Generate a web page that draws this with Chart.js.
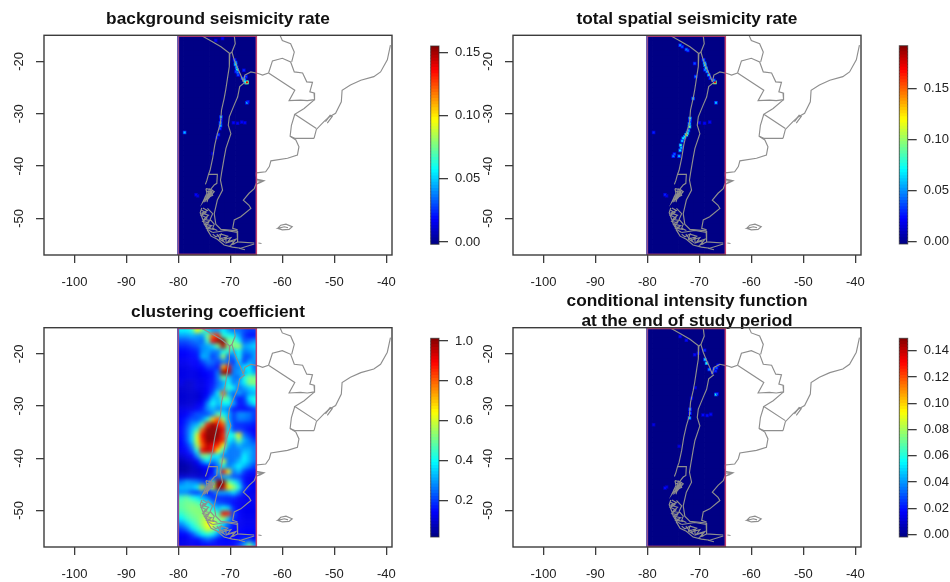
<!DOCTYPE html>
<html><head><meta charset="utf-8">
<script src="https://cdn.jsdelivr.net/npm/chart.js@4"></script>
<style>
html,body{margin:0;padding:0;background:#fff;overflow:hidden;width:950px;height:582px}
canvas{position:absolute;filter:blur(.3px)}
.heat{position:absolute;overflow:hidden}
.heat canvas{filter:blur(2.1px)}
</style></head><body>
<script>
// ---------- tick labels ----------
const lonTicks=[-100,-90,-80,-70,-60,-50,-40];
const latTicks=[-20,-30,-40,-50];
const barTicks1=[0,0.05,0.10,0.15];
const barTicks2=[0,0.05,0.10,0.15];
const barTicks3=[0.2,0.4,0.6,0.8,1.0];
const barTicks4=[0,0.02,0.04,0.06,0.08,0.10,0.12,0.14];
const titles=["background seismicity rate","total spatial seismicity rate","clustering coefficient",["conditional intensity function","at the end of study period"]];
// ---------- map outline polylines (lon, lat) ----------
const peruChileCoast=[[-75.5,-15.1],[-73.7,-16.1],[-71.8,-17.2],[-70.1,-18.5],[-70.2,-21.0],[-70.5,-22.9],[-70.9,-25.5],[-71.2,-27.1],[-71.7,-29.3],[-71.9,-31.8],[-72.5,-33.8],[-73.0,-36.0],[-73.4,-38.5],[-73.9,-40.8],[-74.2,-41.6],[-74.5,-42.7],[-74.8,-43.5]];
const peruBolivia=[[-69.25,-15.1],[-69.06,-16.6],[-69.7,-18.2],[-70.1,-18.5]];
const boliviaChile=[[-69.7,-18.2],[-69.25,-19.7],[-68.6,-21.3],[-68.0,-22.6],[-67.5,-23.9]];
const chileArgentina=[[-67.2,-24.0],[-68.2,-24.8],[-68.6,-26.8],[-69.25,-28.3],[-70.2,-30.6],[-70.4,-32.2],[-69.9,-33.8],[-70.85,-36.6],[-71.2,-38.5],[-71.7,-41.4],[-71.9,-42.7],[-71.5,-44.6],[-72.5,-46.5],[-73.1,-49.1],[-72.8,-51.1],[-71.8,-52.1],[-68.6,-52.4]];
const argentinaBolivia=[[-67.5,-23.9],[-67.2,-22.6],[-66.05,-22.0],[-64.65,-22.3],[-63.8,-22.6],[-62.65,-22.2]];
const paraguay=[[-62.65,-22.2],[-61.9,-19.9],[-60.0,-19.4],[-58.4,-20.1],[-57.7,-22.0],[-56.1,-22.2],[-55.3,-23.9],[-54.2,-24.0],[-54.7,-25.8],[-53.9,-26.0],[-53.8,-27.3],[-55.2,-27.5],[-56.5,-27.4],[-58.7,-27.5],[-57.6,-25.5],[-62.65,-22.2]];
const brazilBolivia=[[-60.4,-15.1],[-60.0,-16.0],[-58.4,-16.6],[-57.7,-18.2],[-58.2,-20.1]];
const atlanticCoast=[[-39.2,-16.9],[-39.8,-19.7],[-41.1,-22.0],[-42.4,-22.9],[-44.9,-23.6],[-46.9,-24.5],[-48.5,-25.5],[-48.65,-27.7],[-49.75,-29.9],[-51.0,-30.6],[-52.0,-31.5],[-53.45,-33.0],[-53.9,-34.7]];
const lagoon=[[-51.7,-31.5],[-50.8,-30.3],[-50.4,-30.5],[-51.35,-31.8]];
const brazilUruguay=[[-53.8,-27.3],[-55.8,-29.0],[-57.6,-30.1],[-53.45,-32.8]];
const uruguayRiver=[[-57.6,-30.1],[-58.25,-32.2],[-58.5,-34.3],[-57.6,-34.7],[-53.9,-34.7]];
const pampaCoast=[[-58.5,-34.3],[-57.4,-35.0],[-56.8,-36.3],[-57.1,-37.9],[-59.0,-38.5],[-62.2,-39.0],[-62.5,-40.1],[-63.2,-41.1],[-65.0,-41.3],[-65.0,-42.0]];
const valdes=[[-65.0,-42.5],[-63.5,-42.8],[-64.3,-43.2],[-64.9,-43.4],[-64.0,-42.9],[-65.0,-42.8]];
const patagoniaCoast=[[-65.0,-43.3],[-65.4,-44.3],[-66.4,-45.2],[-67.5,-46.5],[-66.4,-47.5],[-66.05,-48.1],[-68.0,-49.7],[-69.25,-50.3],[-69.55,-51.9],[-68.6,-52.2]];
const fiordsA=[[-74.2,-41.6],[-72.5,-41.6],[-72.6,-43.3],[-73.1,-43.6],[-73.9,-44.6],[-73.4,-45.6],[-74.2,-45.9],[-74.5,-46.9]];
const fiordsB=[[-74.7,-44.3],[-73.7,-44.5],[-73.1,-44.9],[-74.2,-46.2],[-75.0,-46.5],[-75.3,-46.9],[-74.5,-45.2],[-74.7,-44.3]];
const fiordsC=[[-74.0,-44.3],[-74.4,-45.6],[-73.4,-44.6],[-74.7,-46.2],[-73.7,-45.4],[-75.0,-46.9]];
const fiordsC2=[[-74.6,-44.8],[-73.5,-45.0],[-74.4,-45.9],[-73.9,-45.1],[-74.9,-46.0]];
const fiordsD=[[-75.5,-48.0],[-75.8,-48.9],[-75.3,-50.2],[-75.0,-51.1],[-74.4,-52.1],[-73.4,-52.7]];
const fiordsE=[[-75.3,-48.0],[-74.4,-48.5],[-75.5,-49.0],[-74.2,-49.4],[-75.1,-50.2],[-73.9,-50.4],[-74.9,-51.1],[-73.6,-51.4],[-74.5,-51.9],[-73.1,-52.1]];
const fiordsF=[[-74.4,-48.1],[-73.4,-49.1],[-73.9,-50.2],[-73.1,-51.1],[-73.4,-51.9],[-72.5,-52.3]];
const fiordsG=[[-75.6,-48.4],[-74.7,-48.9],[-75.6,-49.4],[-74.5,-49.9],[-75.3,-50.6],[-74.2,-50.8],[-74.7,-51.5],[-73.7,-51.9]];
const southCoast=[[-74.5,-52.1],[-73.7,-53.4],[-72.5,-54.0],[-71.2,-55.1],[-69.6,-55.5],[-68.0,-55.7],[-65.4,-54.9]];
const magellan=[[-73.4,-52.7],[-72.1,-52.5],[-70.9,-52.3],[-68.6,-52.7]];
const fuegoBorder=[[-68.7,-52.4],[-68.6,-54.5],[-65.4,-54.7]];
const fuegoA=[[-71.8,-53.0],[-70.5,-53.4],[-71.2,-54.0],[-69.9,-53.7],[-70.5,-54.5],[-68.9,-54.0],[-69.9,-55.1],[-68.6,-54.5]];
const fuegoB=[[-73.4,-53.0],[-72.8,-53.5],[-71.8,-53.0],[-72.1,-54.0],[-71.2,-54.5],[-71.8,-53.7]];
const fuegoC=[[-72.6,-53.0],[-71.9,-53.9],[-70.9,-53.6],[-70.8,-54.7],[-69.5,-54.3],[-69.3,-55.0]];
const capeIslets=[[-68.3,-55.7],[-67.2,-56.0]];
const staten=[[-64.6,-54.7],[-64.0,-54.8]];
const falklands=[[-60.9,-51.9],[-60.3,-51.3],[-59.3,-51.1],[-58.1,-51.6],[-58.7,-52.1],[-60.0,-52.2],[-60.9,-51.9],[-59.6,-51.6],[-58.9,-51.8]];
const mapLines=[peruChileCoast,peruBolivia,boliviaChile,chileArgentina,argentinaBolivia,paraguay,brazilBolivia,atlanticCoast,lagoon,brazilUruguay,uruguayRiver,pampaCoast,valdes,patagoniaCoast,fiordsA,fiordsB,fiordsC,fiordsC2,fiordsD,fiordsE,fiordsF,fiordsG,southCoast,magellan,fuegoBorder,fuegoA,fuegoB,fuegoC,capeIslets,staten,falklands];
// ---------- bright raster cells: lon, lat, rate ----------
const hotLon1=[-69.2,-69.0,-69.0,-68.8,-68.7,-68.6,-68.5,-68.9,-67.4,-67.0,-67.7,-67.3,-67.0,-66.8,-67.2,-66.8,-66.6,-71.8,-71.8,-71.9,-71.9,-72.0,-69.4,-68.6,-67.8,-67.2,-72.3,-72.6,-78.8,-73.4,-76.6,-76.3,-72.8,-71.5];
const hotLat1=[-19.7,-20.2,-20.6,-21.1,-21.6,-22.1,-22.6,-21.9,-21.7,-22.9,-23.2,-23.5,-24.0,-24.0,-23.9,-27.9,-27.7,-30.6,-31.1,-31.7,-32.3,-32.8,-31.7,-31.8,-31.6,-31.7,-34.0,-34.6,-33.6,-37.6,-45.5,-45.7,-16.0,-15.6];
const hotVal1=[.03,.05,.06,.05,.06,.04,.03,.03,.025,.03,.04,.05,.1,.14,.06,.045,.025,.05,.03,.045,.05,.03,.02,.02,.02,.02,.03,.02,.05,.015,.02,.015,.02,.02];
const hotLon2=[-73.7,-73.3,-72.5,-72.2,-70.9,-70.7,-69.2,-69.0,-68.9,-68.7,-68.5,-68.2,-68.9,-67.0,-67.2,-66.8,-71.2,-71.8,-71.8,-71.9,-71.9,-72.1,-72.5,-72.3,-72.8,-73.1,-73.3,-73.6,-73.7,-73.5,-73.9,-75.0,-74.8,-70.0,-69.0,-68.0,-78.8,-76.6,-76.3,-67.9];
const hotLat2=[-16.9,-17.2,-17.7,-17.9,-20.4,-22.9,-19.7,-20.3,-20.7,-21.3,-21.9,-22.6,-21.6,-24.0,-23.6,-27.9,-27.1,-30.9,-31.3,-31.9,-32.5,-33.2,-34.0,-33.7,-34.4,-34.7,-35.2,-36.0,-37.0,-36.5,-38.1,-38.1,-37.7,-31.7,-31.8,-31.6,-33.6,-45.5,-45.7,-23.2];
const hotVal2=[.05,.04,.05,.04,.04,.05,.05,.07,.08,.08,.06,.06,.05,.17,.05,.06,.06,.08,.05,.07,.09,.06,.12,.08,.07,.07,.06,.08,.07,.06,.06,.05,.04,.025,.025,.025,.03,.03,.02,.04];
const hotLon4=[-73.7,-72.5,-70.9,-68.9,-68.6,-68.1,-66.7,-67.2,-66.4,-66.9,-67.5,-66.8,-66.6,-71.8,-71.8,-71.9,-69.3,-68.5,-67.8,-78.8,-73.9,-76.6,-76.3,-70.8,-71.5,-70.2,-69.0];
const hotLat4=[-16.7,-17.4,-20.2,-21.1,-21.8,-23.0,-22.7,-22.9,-22.2,-23.3,-23.6,-27.8,-27.7,-30.6,-31.4,-32.3,-31.7,-31.8,-31.6,-33.6,-37.7,-45.7,-45.5,-26.5,-28.5,-19.9,-19.3];
const hotVal4=[.02,.02,.02,.05,.06,.04,.03,.03,.025,.025,.025,.06,.03,.04,.035,.05,.02,.02,.02,.015,.015,.02,.015,.015,.02,.02,.025];
// ---------- clustering coefficient raster, 1 degree cells ----------
const cellLons=[-79.5,-78.5,-77.5,-76.5,-75.5,-74.5,-73.5,-72.5,-71.5,-70.5,-69.5,-68.5,-67.5,-66.5,-65.5];
const cellLats=[-15.5,-16.5,-17.5,-18.5,-19.5,-20.5,-21.5,-22.5,-23.5,-24.5,-25.5,-26.5,-27.5,-28.5,-29.5,-30.5,-31.5,-32.5,-33.5,-34.5,-35.5,-36.5,-37.5,-38.5,-39.5,-40.5,-41.5,-42.5,-43.5,-44.5,-45.5,-46.5,-47.5,-48.5,-49.5,-50.5,-51.5,-52.5,-53.5,-54.5,-55.5,-56.5];
const clustering=[
[.38,.38,.42,.62,.5,.35,.3,.3,.38,.3,.25,.25,.22,.2,.2],
[.3,.3,.32,.3,.3,.5,.8,.85,.42,.42,.38,.3,.2,.16,.16],
[.22,.22,.24,.26,.24,.45,.9,1,1,.5,.5,.38,.22,.24,.28],
[.18,.18,.2,.22,.28,.3,.36,.5,.95,.5,.52,.55,.3,.32,.35],
[.15,.15,.16,.18,.28,.3,.26,.26,.4,.45,.32,.4,.26,.28,.3],
[.14,.14,.15,.16,.32,.3,.2,.26,.55,.22,.26,.42,.22,.22,.3],
[.13,.13,.14,.14,.2,.26,.24,.2,.26,.26,.18,.35,.2,.3,.28],
[.12,.12,.13,.14,.15,.2,.2,.16,.7,.9,.26,.26,.38,.38,.25],
[.12,.12,.12,.12,.14,.15,.16,.26,1,.95,.26,.3,.3,.38,.3],
[.12,.12,.12,.12,.13,.14,.16,.26,.5,.35,.26,.24,.42,.5,.5],
[.12,.1,.1,.12,.12,.14,.16,.24,.3,.4,.26,.3,.38,.52,.52],
[.1,.1,.1,.12,.12,.14,.18,.26,.32,.45,.38,.24,.3,.35,.38],
[.1,.1,.1,.1,.12,.14,.22,.38,.8,.32,.24,.3,.24,.3,.32],
[.1,.1,.1,.1,.12,.18,.34,.32,.5,.45,.26,.16,.2,.38,.42],
[.1,.1,.1,.12,.14,.28,.4,.32,.38,.4,.3,.16,.18,.3,.38],
[.12,.12,.12,.14,.18,.28,.32,.26,.3,.26,.16,.15,.15,.16,.2],
[.13,.14,.18,.22,.22,.22,.28,.48,.38,.32,.2,.28,.28,.26,.2],
[.15,.18,.22,.22,.28,.42,.68,.82,.55,.32,.2,.26,.26,.24,.2],
[.15,.2,.28,.32,.48,.85,1,.9,.8,.35,.2,.18,.18,.18,.16],
[.15,.22,.32,.45,.8,1,1,1,.9,.38,.2,.2,.18,.15,.14],
[.15,.22,.35,.6,.9,1,1,1,.85,.4,.42,.65,.26,.2,.15],
[.15,.22,.35,.6,.85,1,1,.95,.85,.4,.32,.5,.32,.26,.2],
[.14,.18,.28,.55,.8,.95,.9,.85,.62,.32,.26,.32,.28,.28,.26],
[.13,.15,.22,.42,.9,.95,.9,.65,.42,.26,.26,.26,.32,.32,.26],
[.1,.12,.14,.28,.5,.5,.38,.38,.26,.26,.26,.26,.38,.32,.26],
[.07,.09,.1,.14,.28,.38,.26,.32,.62,.26,.26,.32,.38,.32,.26],
[.06,.06,.08,.1,.14,.16,.16,.26,.38,.26,.32,.38,.32,.26,.2],
[.06,.06,.08,.08,.1,.13,.14,.35,.9,.65,.26,.32,.2,.16,.16],
[.1,.1,.1,.1,.1,.12,.18,.22,.32,.28,.22,.2,.16,.13,.13],
[.25,.3,.28,.26,.22,.18,.45,1,1,.5,.42,.32,.16,.13,.13],
[.32,.32,.32,.38,.68,.32,.58,1,.95,.65,.55,.42,.2,.16,.13],
[.28,.28,.22,.2,.26,.15,.2,.3,.3,.3,.36,.26,.16,.13,.12],
[.45,.48,.42,.38,.32,.26,.18,.18,.18,.18,.18,.14,.13,.13,.13],
[.48,.5,.5,.48,.44,.38,.28,.22,.2,.18,.15,.13,.13,.13,.13],
[.48,.5,.52,.52,.5,.48,.38,.32,.4,.35,.18,.14,.13,.13,.13],
[.44,.48,.5,.52,.52,.55,.5,.45,.9,.85,.22,.14,.13,.13,.13],
[.38,.44,.48,.5,.55,.58,.55,.5,.55,.35,.18,.14,.13,.13,.13],
[.28,.35,.42,.48,.55,.64,.64,.5,.35,.24,.15,.13,.13,.13,.13],
[.2,.25,.35,.42,.5,.6,.55,.4,.28,.2,.15,.14,.14,.14,.14],
[.15,.15,.2,.3,.38,.42,.38,.28,.2,.15,.14,.14,.14,.14,.14],
[.13,.13,.15,.15,.2,.24,.2,.15,.15,.15,.15,.15,.2,.2,.15],
[.12,.12,.13,.13,.15,.15,.15,.15,.15,.15,.15,.2,.3,.5,.3]];

// ---------- helpers ----------
const XMIN=-105.85,XMAX=-38.9,YMIN=-57,YMAX=-15,RW=-80,RE=-65;
const AXIS='#3c3c3c',TXT='#222',FONT='"Liberation Sans",Arial,sans-serif';
function clamp01(v){return Math.max(0,Math.min(1,v))}
function jet(t){t=clamp01(t);
  const r=t<.375?0:t<.625?(t-.375)/.25:t<.875?1:1-(t-.875)/.25;
  const g=t<.125?0:t<.375?(t-.125)/.25:t<.625?1:t<.875?1-(t-.625)/.25:0;
  const b=t<.125?.52+.48*t/.125:t<.375?1:t<.625?1-(t-.375)/.25:0;
  return `rgb(${Math.round(r*255)},${Math.round(g*255)},${Math.round(b*255)})`}
function mkCanvas(parent,l,t,w,h){const c=document.createElement('canvas');c.width=w;c.height=h;
  c.style.cssText=`left:${l}px;top:${t}px;width:${w}px;height:${h}px`;parent.appendChild(c);return c}
function setTicks(arr){return s=>{s.ticks=arr.map(v=>({value:v}))}}

const frame={id:'frame',
  afterDatasetsDraw(ch){const {ctx,scales:{x,y},chartArea:A}=ch;
    const l=x.getPixelForValue(RW),r=x.getPixelForValue(RE);
    ctx.save();ctx.lineWidth=1.5;ctx.strokeStyle='#c0406e';ctx.strokeRect(l,A.top+.8,r-l,A.bottom-A.top-1.4);
    ctx.strokeStyle='#6a5cb0';ctx.beginPath();ctx.moveTo(l-.6,A.top);ctx.lineTo(l-.6,A.bottom);ctx.stroke();ctx.restore()},
  afterDraw(ch){const {ctx,chartArea:A}=ch;ctx.save();ctx.strokeStyle=AXIS;ctx.lineWidth=1.4;
    ctx.strokeRect(A.left,A.top,A.right-A.left,A.bottom-A.top);ctx.restore()}};

function panel(i,g,hot){
  const m=50,yW=44,plotW=g.r-g.l;
  const cw=Math.round(plotW+2*m),cl=g.l-m,H=g.b-g.top+42;
  const canvas=mkCanvas(document.body,cl,g.top,cw,H);
  const ds=mapLines.map(line=>({type:'scatter',showLine:true,data:line.map(p=>({x:p[0],y:p[1]})),
    borderColor:'#8e8e8e',borderWidth:1.15,pointRadius:0,tension:0,fill:false}));
  if(hot){
    const pts=hot[0].map((v,k)=>({x:v,y:hot[1][k]}));
    ds.push({type:'scatter',data:pts,pointStyle:'rect',pointRadius:1.4,pointBorderWidth:0,pointBackgroundColor:hot[2].map(v=>jet(v/hot[3]))});
    ds.push({type:'scatter',data:pts,pointStyle:'rect',pointRadius:2.5,pointBorderWidth:0,pointBackgroundColor:hot[2].map(v=>jet(v*.55/hot[3]))});
    const base=[];cellLats.forEach(la=>cellLons.forEach(lo=>base.push({x:lo,y:la})));
    ds.push({type:'scatter',data:base,pointStyle:'rect',pointRadius:4.2,pointBorderWidth:0,pointBackgroundColor:jet(0)});
  }
  return new Chart(canvas,{type:'scatter',data:{datasets:ds},plugins:[frame],options:{
    responsive:false,animation:false,devicePixelRatio:1,events:[],
    layout:{autoPadding:false,padding:{left:m-yW,right:cw-m-plotW,top:0,bottom:0}},
    plugins:{legend:{display:false},tooltip:{enabled:false},
      title:{display:true,fullSize:false,text:titles[i],color:'#111',font:{family:FONT,size:17.3,weight:'bold',lineHeight:'20px'},
        padding:{top:g.tt-g.top-10,bottom:g.t-g.tt-10*(Array.isArray(titles[i])?3:1)}}},
    scales:{
      x:{type:'linear',min:XMIN,max:XMAX,afterBuildTicks:setTicks(lonTicks),afterFit(s){s.height=42},
        grid:{drawOnChartArea:false,drawTicks:true,tickLength:8,color:AXIS,lineWidth:1.3},border:{display:false},
        ticks:{color:TXT,font:{family:FONT,size:13},padding:12,maxRotation:0,minRotation:0,autoSkip:false,callback:v=>String(v)}},
      y:{type:'linear',min:YMIN,max:YMAX,afterBuildTicks:setTicks(latTicks),afterFit(s){s.width=yW},
        grid:{drawOnChartArea:false,drawTicks:true,tickLength:8,color:AXIS,lineWidth:1.3},border:{display:false},
        ticks:{color:TXT,font:{family:FONT,size:13},padding:7,minRotation:90,maxRotation:90,crossAlign:'center',autoSkip:false,callback:v=>String(v)}}
    }}});
}

function colorbar(b,ticks,dec){
  const cl=Math.floor(b.x0)-6,ct=Math.floor(b.y0)-6,W=60,H=Math.ceil(b.y1-b.y0)+14;
  const canvas=mkCanvas(document.body,cl,ct,W,H);
  const N=64,pxPerUnit=(b.yB-b.yA)/(b.vA-b.vB);
  const lo=b.vB-(b.y1-b.yB)/pxPerUnit, hi=b.vA+(b.yA-b.y0)/pxPerUnit;
  const ds=[];for(let k=0;k<N;k++){ds.push({data:[[lo+(hi-lo)*k/N,lo+(hi-lo)*(k+1)/N]],backgroundColor:jet((k+.5)/N),
    borderWidth:0,barPercentage:1,categoryPercentage:1,inflateAmount:.6})}
  const outline={id:'outline',afterDatasetsDraw(ch){const {ctx,chartArea:A}=ch;ctx.save();ctx.strokeStyle='rgba(50,50,50,.75)';ctx.lineWidth=1;
    ctx.strokeRect(A.left,A.top,A.right-A.left,A.bottom-A.top);ctx.restore()}};
  return new Chart(canvas,{type:'bar',data:{labels:[''],datasets:ds},plugins:[outline],options:{
    responsive:false,animation:false,devicePixelRatio:1,events:[],
    layout:{autoPadding:false,padding:{left:b.x0-cl,right:0,top:b.y0-ct,bottom:H-(b.y1-ct)}},
    plugins:{legend:{display:false},tooltip:{enabled:false}},
    scales:{x:{display:false,stacked:true},
      y:{type:'linear',position:'right',stacked:false,min:lo,max:hi,afterBuildTicks:setTicks(ticks),afterFit(s){s.width=W-(b.x1-cl);s.paddingTop=0;s.paddingBottom=0},
        grid:{drawOnChartArea:false,drawTicks:true,tickLength:9,color:AXIS,lineWidth:1.3},border:{display:false},
        ticks:{color:TXT,font:{family:FONT,size:13},padding:7,autoSkip:false,callback:v=>v.toFixed(dec)}}}}});
}

function clusteringLayer(g){
  const m=8,pxX=(g.rasterR-g.rasterL)/15,pxY=(g.b-g.t)/42;
  const box=document.createElement('div');box.className='heat';
  box.style.cssText=`left:${g.rasterL}px;top:${g.t}px;width:${g.rasterR-g.rasterL}px;height:${g.b-g.t}px`;
  document.body.appendChild(box);
  const cw=Math.ceil(g.rasterR-g.rasterL)+2*m,ch=Math.ceil(g.b-g.t)+2*m;
  const canvas=mkCanvas(box,-m,-m,cw,ch);
  const pts=[],cols=[];
  for(let r=-3;r<cellLats.length+3;r++)for(let c=-3;c<cellLons.length+3;c++){
    const rr=Math.max(0,Math.min(cellLats.length-1,r)),cc=Math.max(0,Math.min(cellLons.length-1,c));
    pts.push({x:cellLons[cc]+(c-cc),y:cellLats[rr]-(r-rr)});cols.push(jet((clustering[rr][cc]-0.02)/0.99));
  }
  new Chart(canvas,{type:'scatter',data:{datasets:[{data:pts,pointStyle:'rect',pointRadius:3.9,pointBorderWidth:0,pointBackgroundColor:cols}]},options:{
    responsive:false,animation:false,devicePixelRatio:1,events:[],layout:{padding:0,autoPadding:false},
    plugins:{legend:{display:false},tooltip:{enabled:false}},
    scales:{x:{display:false,type:'linear',min:RW-m/pxX,max:RW-m/pxX+cw/pxX},y:{display:false,type:'linear',max:YMAX+m/pxY,min:YMAX+m/pxY-ch/pxY}}}});
}

const gTL={l:44.3,r:392.3,t:35.3,b:255,top:0,tt:19};
const gTR={l:513,r:861,t:35.3,b:255,top:0,tt:19};
const gBL={l:44.3,r:392.3,t:327.7,b:547.3,top:280,tt:312};
const gBR={l:513,r:861,t:327.7,b:547.3,top:280,tt:301.5};
clusteringLayer({...gBL,rasterL:179,rasterR:257.3});
panel(0,gTL,[hotLon1,hotLat1,hotVal1,0.157]);
panel(1,gTR,[hotLon2,hotLat2,hotVal2,0.192]);
panel(2,gBL,null);
panel(3,gBR,[hotLon4,hotLat4,hotVal4,0.149]);
colorbar({x0:430.7,x1:439,y0:46,y1:244.3,yA:52.7,vA:0.15,yB:242,vB:0},barTicks1,2);
colorbar({x0:899.3,x1:907.7,y0:45.7,y1:244,yA:88.7,vA:0.15,yB:241.7,vB:0},barTicks2,2);
colorbar({x0:430.7,x1:439,y0:338.3,y1:537,yA:341,vA:1.0,yB:500.7,vB:0.2},barTicks3,1);
colorbar({x0:899.3,x1:907.7,y0:338.3,y1:537,yA:350.7,vA:0.14,yB:534.7,vB:0},barTicks4,2);
</script></body></html>
